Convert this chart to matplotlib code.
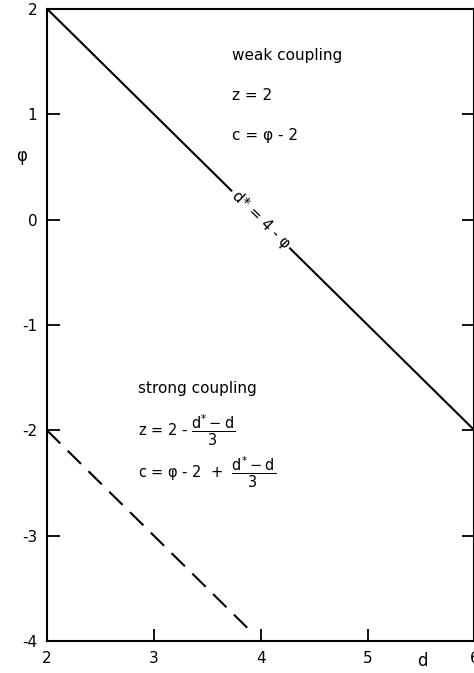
import matplotlib.pyplot as plt
import numpy as np

plt.rcParams['font.family'] = ['DejaVu Sans']
plt.rcParams['mathtext.fontset'] = 'dejavusans'
plt.rcParams['mathtext.default'] = 'regular'

# weak coupling boundary d* = 4 - phi, strong coupling (dashed)
d_weak = [2, 6]
phi_weak = [2, -2]
d_strong = [2, 3.94]
phi_strong = [-2, -3.94]

xticks = [2, 3, 4, 5, 6]
yticks = [-4, -3, -2, -1, 0, 1, 2]

fig = plt.figure(figsize=(4.74, 6.73), dpi=100)
ax = fig.add_axes([0.099, 0.0475, 0.902, 0.9395])

ax.plot(d_weak, phi_weak, color='black', lw=1.5, solid_capstyle='butt')
ax.plot(d_strong, phi_strong, color='black', lw=1.5, dashes=(9, 5),
        dash_capstyle='butt')

ax.set_xlim(2, 6)
ax.set_ylim(-4, 2)
ax.set_xticks(xticks)
ax.set_yticks(yticks)
ax.set_xticklabels([str(t) for t in xticks])
ax.set_yticklabels([str(t) for t in yticks])
ax.tick_params(direction='in', length=9, width=1.3, labelsize=11, pad=7,
               right=True, top=False)
for sp in ax.spines.values():
    sp.set_linewidth(1.5)

ax.set_xlabel('d', fontsize=12)
ax.xaxis.set_label_coords(0.878, -0.018)
ax.set_ylabel('φ', fontsize=12, rotation=0)
ax.yaxis.set_label_coords(-0.06, 0.753)

# line label
ax.text(4.0, 0.0, 'd* = 4 - φ', rotation=-44.5, ha='center', va='center',
        fontsize=11, rotation_mode='anchor',
        bbox=dict(facecolor='white', edgecolor='none', pad=2))

# weak coupling annotation
ax.text(3.73, 1.56, 'weak coupling', fontsize=11, va='center')
ax.text(3.73, 1.18, 'z = 2', fontsize=11, va='center')
ax.text(3.73, 0.8, 'c = φ - 2', fontsize=11, va='center')

# strong coupling annotation
ax.text(2.85, -1.6, 'strong coupling', fontsize=11, va='center')
ax.text(2.85, -2.0, r'z = 2 - $\dfrac{d^{*}-d}{3}$', fontsize=10.5, va='center')
ax.text(2.85, -2.4, r'c = φ - 2  +  $\dfrac{d^{*}-d}{3}$', fontsize=10.5, va='center')

plt.savefig('out.png', dpi=100)
